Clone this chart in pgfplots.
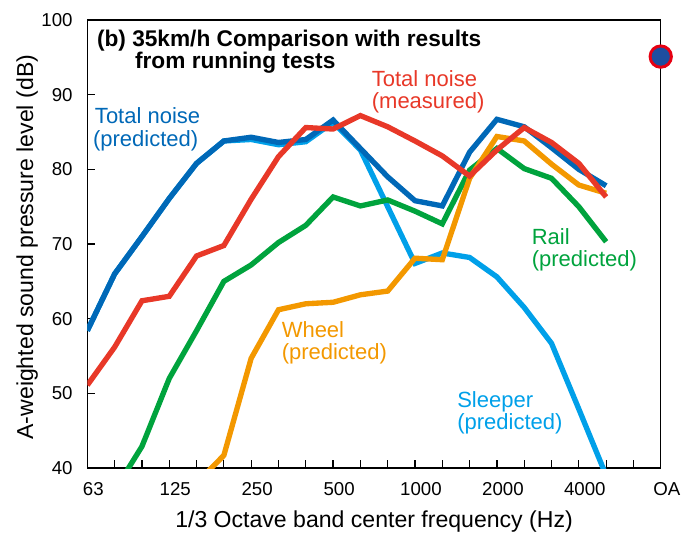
\documentclass[border=0pt]{standalone}
\usepackage{fontspec}
\setmainfont{Liberation Sans}
\usepackage{pgfplots}
\pgfplotsset{compat=1.18}
\definecolor{cdblue}{HTML}{0068B7}
\definecolor{clblue}{HTML}{00A0E9}
\definecolor{cred}{HTML}{E83828}
\definecolor{cgreen}{HTML}{00A33D}
\definecolor{corange}{HTML}{F39800}
\definecolor{coafill}{HTML}{1D4EA0}
\definecolor{coaedge}{HTML}{E60012}
\tikzset{lbl/.style={anchor=base west, inner sep=0pt, outer sep=0pt, font=\fontsize{16.5}{19}\selectfont},
         ttl/.style={anchor=base west, inner sep=0pt, outer sep=0pt, font=\bfseries\fontsize{17}{20}\selectfont}}
\begin{document}
\begin{tikzpicture}
\begin{axis}[
  name=ax,
  scale only axis, width=430pt, height=336pt,
  xmin=0, xmax=21, ymin=40, ymax=100,
  xtick={0,...,21},
  xticklabels={63,,,125,,,250,,,500,,,1000,,,2000,,,4000,,,OA},
  ytick={40,50,...,100},
  tick align=inside, xtick pos=bottom, ytick pos=left,
  major tick length=6pt,
  tick style={black, line width=0.9pt},
  axis line style={black, line width=1pt},
  /pgf/number format/assume math mode=true,
  tick label style={font=\fontsize{14}{16}\selectfont},
  xticklabel style={xshift=4.5pt, yshift=-7.5pt},
  yticklabel style={xshift=-7.5pt},
  xlabel={1/3 Octave band center frequency (Hz)},
  ylabel={A-weighted sound pressure level (dB)},
  label style={font=\fontsize{17.3}{20}\selectfont},
  xlabel style={at={(axis description cs:0.5,-0.1317)}, anchor=base},
  ylabel style={at={(axis description cs:-0.0947,0.493)}, anchor=base, rotate=0},
]
% Sleeper (predicted)
\addplot[clblue, line width=4pt, mark=none] coordinates {
(0,58.4) (1,66.0) (2,71.0) (3,76.1) (4,80.8) (5,83.8) (6,84.0) (7,83.3) (8,83.7) (9,86.3)
(10,82.6) (11,75.0) (12,67.4) (13,68.8) (14,68.2) (15,65.6) (16,61.5) (17,56.7) (18,47.9) (19,39.0)};
% Rail (predicted)
\addplot[cgreen, line width=4pt, mark=none] coordinates {
(1,37.0) (2,42.9) (3,52.0) (4,58.4) (5,65.0) (6,67.2) (7,70.2) (8,72.5) (9,76.3)
(10,75.1) (11,75.9) (12,74.4) (13,72.7) (14,79.9) (15,82.8) (16,80.1) (17,78.8) (18,75.0) (19,70.3)};
% Wheel (predicted)
\addplot[corange, line width=4pt, mark=none] coordinates {
(4,38.0) (5,41.7) (6,54.7) (7,61.2) (8,62.0) (9,62.2)
(10,63.2) (11,63.7) (12,68.1) (13,67.9) (14,78.8) (15,84.4) (16,83.8) (17,80.7) (18,77.9) (19,76.8)};
% Total noise (predicted)
\addplot[cdblue, line width=4pt, mark=none] coordinates {
(0,58.4) (1,66.0) (2,71.0) (3,76.1) (4,80.8) (5,83.8) (6,84.3) (7,83.6) (8,84.0) (9,86.6)
(10,82.8) (11,79.0) (12,75.8) (13,75.1) (14,82.3) (15,86.7) (16,85.7) (17,82.9) (18,80.0) (19,77.8)};
% Total noise (measured)
\addplot[cred, line width=4pt, mark=none] coordinates {
(0,51.1) (1,56.2) (2,62.4) (3,63.0) (4,68.4) (5,69.8) (6,76.0) (7,81.7) (8,85.6) (9,85.4)
(10,87.2) (11,85.7) (12,83.8) (13,81.8) (14,79.1) (15,82.6) (16,85.6) (17,83.6) (18,80.8) (19,76.3)};
% Overall (OA)
\addplot[only marks, mark=*, mark size=8pt, mark options={fill=coafill, draw=coaedge, line width=2.2pt}] coordinates {(21,95.1)};

\node[ttl] at (axis cs:0.355,96.4) {(b) 35km/h Comparison with results};
\node[ttl] at (axis cs:1.75,93.5) {from running tests};

\node[lbl, text=cdblue] at (axis cs:0.28,86.16) {Total noise};
\node[lbl, text=cdblue] at (axis cs:0.21,83.1) {(predicted)};
\node[lbl, text=cred] at (axis cs:10.42,91.16) {Total noise};
\node[lbl, text=cred] at (axis cs:10.42,88.17) {(measured)};
\node[lbl, text=cgreen] at (axis cs:16.28,69.87) {Rail};
\node[lbl, text=cgreen] at (axis cs:16.28,66.96) {(predicted)};
\node[lbl, text=corange] at (axis cs:7.12,57.5) {Wheel};
\node[lbl, text=corange] at (axis cs:7.12,54.56) {(predicted)};
\node[lbl, text=clblue] at (axis cs:13.55,48.08) {Sleeper};
\node[lbl, text=clblue] at (axis cs:13.55,45.18) {(predicted)};
\end{axis}
\pgfresetboundingbox
\path[use as bounding box] ([shift={(-65.5pt,-51pt)}]ax.south west) rectangle ([shift={(19.7pt,15pt)}]ax.north east);
\end{tikzpicture}
\end{document}
